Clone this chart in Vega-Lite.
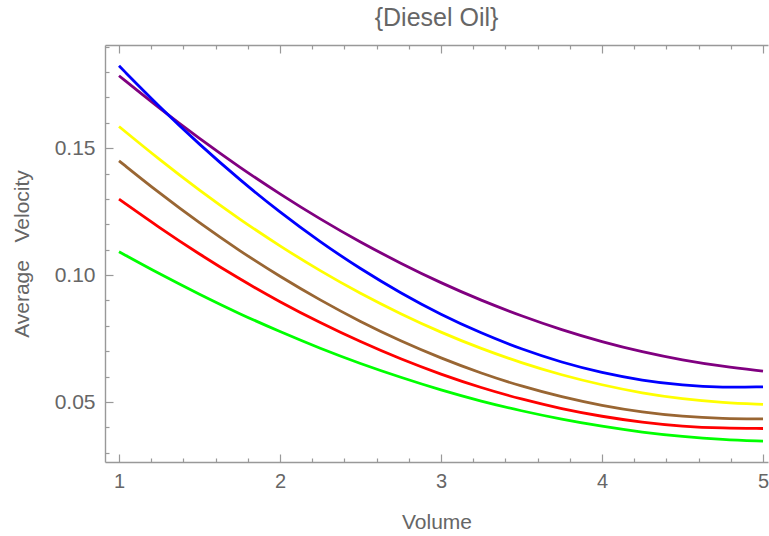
{
  "$schema": "https://vega.github.io/schema/vega-lite/v6.json",
  "autosize": {"type": "none"},
  "padding": {"left": 105, "top": 45, "right": 1, "bottom": 74},
  "width": 663,
  "height": 417,
  "background": "white",
  "config": {
    "view": {"stroke": null},
    "font": "Liberation Sans",
    "axis": {"labelOverlap": false}
  },
  "title": {
    "text": "{Diesel Oil}",
    "fontSize": 25,
    "font": "Liberation Sans",
    "fontWeight": "normal",
    "color": "#666666",
    "anchor": "middle",
    "baseline": "alphabetic",
    "offset": -15
  },
  "data": {
    "values": [
      {"s": "purple", "x": 1, "y": 0.1785}, {"s": "purple", "x": 1.25, "y": 0.1657}, {"s": "purple", "x": 1.5, "y": 0.1537}, {"s": "purple", "x": 1.75, "y": 0.1424}, {"s": "purple", "x": 2, "y": 0.1319}, {"s": "purple", "x": 2.25, "y": 0.1220}, {"s": "purple", "x": 2.5, "y": 0.1129}, {"s": "purple", "x": 2.75, "y": 0.1046}, {"s": "purple", "x": 3, "y": 0.0969}, {"s": "purple", "x": 3.25, "y": 0.0900}, {"s": "purple", "x": 3.5, "y": 0.0839}, {"s": "purple", "x": 3.75, "y": 0.0784}, {"s": "purple", "x": 4, "y": 0.0737}, {"s": "purple", "x": 4.25, "y": 0.0697}, {"s": "purple", "x": 4.5, "y": 0.0665}, {"s": "purple", "x": 4.75, "y": 0.0640}, {"s": "purple", "x": 5, "y": 0.0622},
      {"s": "blue", "x": 1, "y": 0.1824}, {"s": "blue", "x": 1.25, "y": 0.1663}, {"s": "blue", "x": 1.5, "y": 0.1514}, {"s": "blue", "x": 1.75, "y": 0.1375}, {"s": "blue", "x": 2, "y": 0.1247}, {"s": "blue", "x": 2.25, "y": 0.1130}, {"s": "blue", "x": 2.5, "y": 0.1024}, {"s": "blue", "x": 2.75, "y": 0.0929}, {"s": "blue", "x": 3, "y": 0.0844}, {"s": "blue", "x": 3.25, "y": 0.0771}, {"s": "blue", "x": 3.5, "y": 0.0708}, {"s": "blue", "x": 3.75, "y": 0.0656}, {"s": "blue", "x": 4, "y": 0.0615}, {"s": "blue", "x": 4.25, "y": 0.0585}, {"s": "blue", "x": 4.5, "y": 0.0566}, {"s": "blue", "x": 4.75, "y": 0.0557}, {"s": "blue", "x": 5, "y": 0.0560},
      {"s": "yellow", "x": 1, "y": 0.1585}, {"s": "yellow", "x": 1.25, "y": 0.1455}, {"s": "yellow", "x": 1.5, "y": 0.1333}, {"s": "yellow", "x": 1.75, "y": 0.1219}, {"s": "yellow", "x": 2, "y": 0.1114}, {"s": "yellow", "x": 2.25, "y": 0.1016}, {"s": "yellow", "x": 2.5, "y": 0.0927}, {"s": "yellow", "x": 2.75, "y": 0.0847}, {"s": "yellow", "x": 3, "y": 0.0774}, {"s": "yellow", "x": 3.25, "y": 0.0710}, {"s": "yellow", "x": 3.5, "y": 0.0654}, {"s": "yellow", "x": 3.75, "y": 0.0606}, {"s": "yellow", "x": 4, "y": 0.0567}, {"s": "yellow", "x": 4.25, "y": 0.0535}, {"s": "yellow", "x": 4.5, "y": 0.0512}, {"s": "yellow", "x": 4.75, "y": 0.0498}, {"s": "yellow", "x": 5, "y": 0.0491},
      {"s": "brown", "x": 1, "y": 0.1450}, {"s": "brown", "x": 1.25, "y": 0.1323}, {"s": "brown", "x": 1.5, "y": 0.1205}, {"s": "brown", "x": 1.75, "y": 0.1095}, {"s": "brown", "x": 2, "y": 0.0994}, {"s": "brown", "x": 2.25, "y": 0.0901}, {"s": "brown", "x": 2.5, "y": 0.0816}, {"s": "brown", "x": 2.75, "y": 0.0740}, {"s": "brown", "x": 3, "y": 0.0673}, {"s": "brown", "x": 3.25, "y": 0.0613}, {"s": "brown", "x": 3.5, "y": 0.0562}, {"s": "brown", "x": 3.75, "y": 0.0520}, {"s": "brown", "x": 4, "y": 0.0486}, {"s": "brown", "x": 4.25, "y": 0.0460}, {"s": "brown", "x": 4.5, "y": 0.0443}, {"s": "brown", "x": 4.75, "y": 0.0435}, {"s": "brown", "x": 5, "y": 0.0434},
      {"s": "red", "x": 1, "y": 0.1299}, {"s": "red", "x": 1.25, "y": 0.1187}, {"s": "red", "x": 1.5, "y": 0.1082}, {"s": "red", "x": 1.75, "y": 0.0984}, {"s": "red", "x": 2, "y": 0.0894}, {"s": "red", "x": 2.25, "y": 0.0812}, {"s": "red", "x": 2.5, "y": 0.0737}, {"s": "red", "x": 2.75, "y": 0.0669}, {"s": "red", "x": 3, "y": 0.0609}, {"s": "red", "x": 3.25, "y": 0.0556}, {"s": "red", "x": 3.5, "y": 0.0511}, {"s": "red", "x": 3.75, "y": 0.0473}, {"s": "red", "x": 4, "y": 0.0443}, {"s": "red", "x": 4.25, "y": 0.0420}, {"s": "red", "x": 4.5, "y": 0.0404}, {"s": "red", "x": 4.75, "y": 0.0397}, {"s": "red", "x": 5, "y": 0.0396},
      {"s": "green", "x": 1, "y": 0.1092}, {"s": "green", "x": 1.25, "y": 0.1005}, {"s": "green", "x": 1.5, "y": 0.0924}, {"s": "green", "x": 1.75, "y": 0.0847}, {"s": "green", "x": 2, "y": 0.0777}, {"s": "green", "x": 2.25, "y": 0.0711}, {"s": "green", "x": 2.5, "y": 0.0651}, {"s": "green", "x": 2.75, "y": 0.0597}, {"s": "green", "x": 3, "y": 0.0547}, {"s": "green", "x": 3.25, "y": 0.0503}, {"s": "green", "x": 3.5, "y": 0.0465}, {"s": "green", "x": 3.75, "y": 0.0432}, {"s": "green", "x": 4, "y": 0.0404}, {"s": "green", "x": 4.25, "y": 0.0381}, {"s": "green", "x": 4.5, "y": 0.0364}, {"s": "green", "x": 4.75, "y": 0.0352}, {"s": "green", "x": 5, "y": 0.0346}
    ]
  },
  "resolve": {"axis": {"x": "independent"}},
  "layer": [
    {
      "mark": {"type": "line", "strokeWidth": 2.8, "interpolate": "basis", "clip": true},
      "encoding": {
        "x": {
          "field": "x", "type": "quantitative",
          "scale": {"domain": [0.913, 5.031], "nice": false, "zero": false},
          "axis": {
            "orient": "bottom",
            "title": "Volume",
            "values": [1, 1.2, 1.4, 1.6, 1.8, 2, 2.2, 2.4, 2.6, 2.8, 3, 3.2, 3.4, 3.6, 3.8, 4, 4.2, 4.4, 4.6, 4.8, 5],
            "labelExpr": "datum.value == 1 || datum.value == 2 || datum.value == 3 || datum.value == 4 || datum.value == 5 ? format(datum.value, 'd') : ''",
            "tickSize": {"condition": {"test": "datum.value == 1 || datum.value == 2 || datum.value == 3 || datum.value == 4 || datum.value == 5", "value": -8}, "value": -4},
            "tickColor": "#999999",
            "tickWidth": 1.2,
            "domainColor": "#999999",
            "domainWidth": 1.4,
            "grid": false,
            "labelFont": "Liberation Sans",
            "labelFontSize": 20,
            "labelColor": "#666666",
            "labelPadding": 17,
            "labelFlush": false,
            "labelOverlap": false,
            "titleFont": "Liberation Sans",
            "titleFontSize": 21,
            "titleFontWeight": "normal",
            "titleColor": "#666666",
            "titlePadding": 16
          }
        },
        "y": {
          "field": "y", "type": "quantitative",
          "scale": {"domain": [0.0264, 0.1906], "nice": false, "zero": false},
          "axis": {
            "title": "Average\u00a0\u00a0\u00a0Velocity",
            "values": [0.03, 0.04, 0.05, 0.06, 0.07, 0.08, 0.09, 0.1, 0.11, 0.12, 0.13, 0.14, 0.15, 0.16, 0.17, 0.18, 0.19],
            "labelExpr": "datum.value == 0.05 || datum.value == 0.1 || datum.value == 0.15 ? format(datum.value, '.2f') : ''",
            "tickSize": {"condition": {"test": "datum.value == 0.05 || datum.value == 0.1 || datum.value == 0.15", "value": -8}, "value": -4},
            "tickColor": "#999999",
            "tickWidth": 1.2,
            "domainColor": "#999999",
            "domainWidth": 1.4,
            "grid": false,
            "labelFont": "Liberation Sans",
            "labelFontSize": 21,
            "labelColor": "#666666",
            "labelPadding": 18,
            "labelFlush": false,
            "labelOverlap": false,
            "titleFont": "Liberation Sans",
            "titleFontSize": 21,
            "titleFontWeight": "normal",
            "titleColor": "#666666",
            "titlePadding": 22
          }
        },
        "color": {
          "field": "s", "type": "nominal",
          "scale": {"domain": ["purple", "blue", "yellow", "brown", "red", "green"], "range": ["#800080", "#0000ff", "#ffff00", "#996633", "#ff0000", "#00ff00"]},
          "legend": null
        }
      }
    },
    {
      "mark": {"type": "rule", "opacity": 0},
      "encoding": {
        "x": {
          "field": "x", "type": "quantitative",
          "scale": {"domain": [0.913, 5.031], "nice": false, "zero": false},
          "axis": {
            "orient": "top",
            "title": null,
            "labels": false,
            "values": [1, 1.2, 1.4, 1.6, 1.8, 2, 2.2, 2.4, 2.6, 2.8, 3, 3.2, 3.4, 3.6, 3.8, 4, 4.2, 4.4, 4.6, 4.8, 5],
            "tickSize": {"condition": {"test": "datum.value == 1 || datum.value == 2 || datum.value == 3 || datum.value == 4 || datum.value == 5", "value": -8}, "value": -4},
            "tickColor": "#999999",
            "tickWidth": 1.2,
            "domainColor": "#999999",
            "domainWidth": 1.4,
            "grid": false
          }
        }
      }
    }
  ]
}
